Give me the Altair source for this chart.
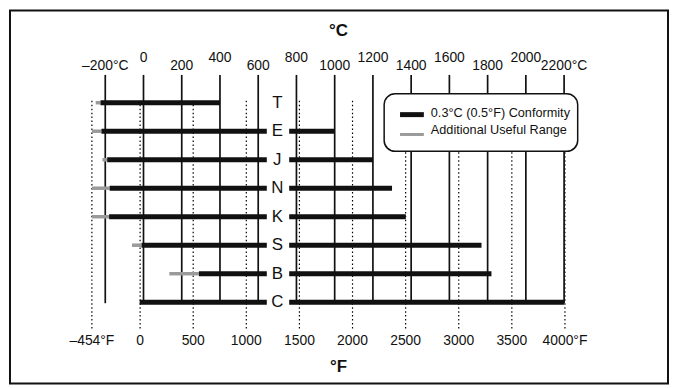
import altair as alt
import pandas as pd

# ---------------- data ----------------
rows = ["T", "E", "J", "N", "K", "S", "B", "C"]
gray_rows = ["T", "E", "J", "N", "K", "S", "B"]
gray_lo = [-250, -270, -215, -270, -270, -60, 135]
gray_hi = [-225, -220, -190, -177, -180, -10, 290]
black_lo = [-225, -220, -190, -177, -180, -10, 290, -20]
black_hi = [400, 1000, 1200, 1300, 1372, 1768, 1820, 2200]

c_ticks = [-200, 0, 200, 400, 600, 800, 1000, 1200, 1400, 1600, 1800, 2000, 2200]
c_labels = ["\u2013200\u00b0C", "0", "200", "400", "600", "800", "1000", "1200",
            "1400", "1600", "1800", "2000", "2200\u00b0C"]
f_ticks = [-454, 0, 500, 1000, 1500, 2000, 2500, 3000, 3500, 4000]
f_labels = ["\u2013454\u00b0F", "0", "500", "1000", "1500", "2000", "2500",
            "3000", "3500", "4000\u00b0F"]

legend_labels = ["0.3\u00b0C (0.5\u00b0F) Conformity", "Additional Useful Range"]
letter_pos_c = 700           # column of the thermocouple letters (°C)
letter_gap = [645, 762]      # gap in the bars around the letters (°C)

# ---------------- tables ----------------
row_idx = {r: i for i, r in enumerate(rows)}
df_black = pd.DataFrame({"row": [row_idx[r] for r in rows], "lo": black_lo, "hi": black_hi})
df_gray = pd.DataFrame({"row": [row_idx[r] for r in gray_rows], "lo": gray_lo, "hi": gray_hi})
df_letters = pd.DataFrame({"row": list(range(len(rows))), "name": rows, "c": [letter_pos_c] * len(rows)})
df_c = pd.DataFrame({"c": c_ticks, "label": c_labels, "lvl": [i % 2 for i in range(len(c_ticks))]})
df_f = pd.DataFrame({"f": f_ticks, "label": f_labels})
df_gap = pd.DataFrame({"a": [letter_gap[0]], "b": [letter_gap[1]]})

FONT = "Liberation Sans"
X = alt.Scale(domain=[-200, 2200], range=[98, 560.3], nice=False, zero=False)
Y = alt.Scale(domain=[0, 7], range=[94, 295], nice=False, zero=False)

x_c = alt.X("c:Q", scale=X, axis=None)

# dotted °F lines
f_lines = alt.Chart(df_f).transform_calculate(c="(datum.f - 32) * 5 / 9").mark_rule(
    color="black", strokeWidth=1.2, strokeDash=[1.5, 2.5]
).encode(x=x_c, y=alt.value(92), y2=alt.value(323))

# solid °C lines
c_lines = alt.Chart(df_c).mark_rule(color="#111", strokeWidth=1.7).encode(
    x=x_c, y=alt.value(66), y2=alt.value(296))

gap = alt.Chart(df_gap).mark_rect(color="white").encode(
    x=alt.X("a:Q", scale=X, axis=None), x2="b:Q", y=alt.value(86), y2=alt.value(306))

gray_bars = alt.Chart(df_gray).mark_rule(color="#9a9a9a", strokeWidth=3.5, strokeCap="butt").encode(
    x=alt.X("lo:Q", scale=X, axis=None), x2="hi:Q", y=alt.Y("row:Q", scale=Y, axis=None))

black_bars = alt.Chart(df_black).mark_rule(color="#111", strokeWidth=5, strokeCap="butt").encode(
    x=alt.X("lo:Q", scale=X, axis=None), x2="hi:Q", y=alt.Y("row:Q", scale=Y, axis=None))

# white gap over bars around letters
gap2 = gap

letters = alt.Chart(df_letters).mark_text(
    font=FONT, fontSize=17, color="#111", baseline="middle", align="center"
).encode(x=x_c, y=alt.Y("row:Q", scale=Y, axis=None), text="name:N")

# top °C labels (staggered)
c_text_low = alt.Chart(df_c).transform_filter("datum.lvl == 0").mark_text(
    font=FONT, fontSize=14, color="#111", baseline="alphabetic", align="center"
).encode(x=x_c, y=alt.value(61), text="label:N")
c_text_high = alt.Chart(df_c).transform_filter("datum.lvl == 1").mark_text(
    font=FONT, fontSize=14, color="#111", baseline="alphabetic", align="center"
).encode(x=x_c, y=alt.value(53), text="label:N")

f_text = alt.Chart(df_f).transform_calculate(c="(datum.f - 32) * 5 / 9").mark_text(
    font=FONT, fontSize=14, color="#111", baseline="alphabetic", align="center"
).encode(x=x_c, y=alt.value(338), text="label:N")

title_c = alt.Chart(pd.DataFrame({"t": ["\u00b0C"]})).mark_text(
    font=FONT, fontSize=17, fontWeight="bold", color="#111", baseline="alphabetic", align="center"
).encode(x=alt.value(333), y=alt.value(27), text="t:N")
title_f = alt.Chart(pd.DataFrame({"t": ["\u00b0F"]})).mark_text(
    font=FONT, fontSize=17, fontWeight="bold", color="#111", baseline="alphabetic", align="center"
).encode(x=alt.value(333), y=alt.value(365), text="t:N")

# legend
legend_box = alt.Chart(pd.DataFrame({"k": [0]})).mark_rect(
    fill="white", stroke="#111", strokeWidth=1.5, cornerRadius=11
).encode(x=alt.value(379), x2=alt.value(574), y=alt.value(85), y2=alt.value(143))
leg_black = alt.Chart(pd.DataFrame({"k": [0]})).mark_rule(color="#111", strokeWidth=5).encode(
    x=alt.value(395), x2=alt.value(419), y=alt.value(106))
leg_gray = alt.Chart(pd.DataFrame({"k": [0]})).mark_rule(color="#9a9a9a", strokeWidth=3).encode(
    x=alt.value(395), x2=alt.value(419), y=alt.value(126))
leg_t1 = alt.Chart(pd.DataFrame({"t": [legend_labels[0]]})).mark_text(
    font=FONT, fontSize=12.8, color="#111", align="left", baseline="alphabetic"
).encode(x=alt.value(426), y=alt.value(108), text="t:N")
leg_t2 = alt.Chart(pd.DataFrame({"t": [legend_labels[1]]})).mark_text(
    font=FONT, fontSize=12.8, color="#111", align="left", baseline="alphabetic"
).encode(x=alt.value(426), y=alt.value(126), text="t:N")

frame = alt.Chart(pd.DataFrame({"k": [0]})).mark_rect(
    filled=False, stroke="#111", strokeWidth=2
).encode(x=alt.value(2), x2=alt.value(665), y=alt.value(1), y2=alt.value(377))

chart = alt.layer(
    f_lines, c_lines, gray_bars, black_bars, gap, letters,
    c_text_low, c_text_high, f_text, title_c, title_f,
    legend_box, leg_black, leg_gray, leg_t1, leg_t2, frame
).properties(
    width=666, height=379, autosize=alt.AutoSizeParams(type="none"), padding=0
).configure_view(stroke=None)

chart.save("out.html", embed_options={"renderer": "svg", "actions": False})
